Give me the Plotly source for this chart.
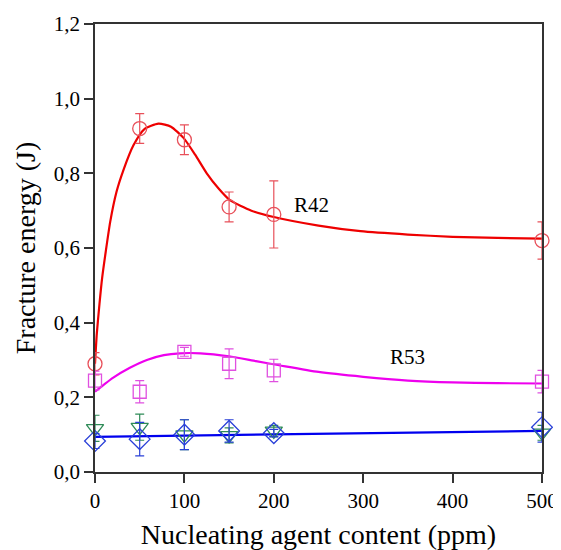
import plotly.graph_objects as go

# measured points (ppm)
conc = [0, 50, 100, 150, 200, 500]

r42 = [0.29, 0.92, 0.89, 0.71, 0.69, 0.62]
r42_err = [0.03, 0.04, 0.04, 0.04, 0.09, 0.05]

r53 = [0.245, 0.215, 0.322, 0.29, 0.272, 0.242]
r53_err = [0.025, 0.03, 0.012, 0.04, 0.03, 0.03]

tri = [0.117, 0.12, 0.10, 0.098, 0.11, 0.105]
tri_err = [0.035, 0.035, 0.04, 0.02, 0.015, 0.02]

dia = [0.083, 0.088, 0.10, 0.11, 0.104, 0.12]
dia_err = [0.02, 0.045, 0.04, 0.03, 0.01, 0.04]

# fitted curves
fit42_x = [0, 2, 5, 8, 12, 17, 24, 32, 43, 55, 71, 85, 99, 112, 125, 138, 151, 175, 200, 250, 297, 350, 400, 450, 500]
fit42_y = [0.29, 0.37, 0.45, 0.52, 0.59, 0.67, 0.75, 0.81, 0.875, 0.918, 0.933, 0.925, 0.895, 0.85, 0.80, 0.76, 0.728, 0.70, 0.683, 0.66, 0.645, 0.636, 0.63, 0.627, 0.625]

fit53_x = [0, 10, 20, 39, 58, 77, 95, 118, 150, 180, 206, 250, 300, 350, 400, 450, 500]
fit53_y = [0.215, 0.234, 0.252, 0.279, 0.300, 0.313, 0.318, 0.318, 0.31, 0.297, 0.286, 0.268, 0.255, 0.245, 0.24, 0.238, 0.237]

fitb_x = [0, 200, 500]
fitb_y = [0.094, 0.101, 0.11]

serif = "Times New Roman, Liberation Serif, DejaVu Serif, serif"

fig = go.Figure()

for fx, fy, col in [(fit42_x, fit42_y, "#ee0000"), (fit53_x, fit53_y, "#ee00ee"), (fitb_x, fitb_y, "#0000ee")]:
    fig.add_trace(go.Scatter(x=fx, y=fy, mode="lines", cliponaxis=False,
                             line=dict(color=col, width=2.2, shape="spline", smoothing=0.6)))


def pts(y, err, color, symbol, size):
    return go.Scatter(
        x=conc, y=y, mode="markers", cliponaxis=False,
        marker=dict(symbol=symbol, size=size, color=color, line=dict(color=color, width=1.3)),
        error_y=dict(type="data", array=err, color=color, thickness=1.2, width=4.5),
    )


fig.add_trace(pts(r42, r42_err, "#e8505a", "circle-open", 14))
fig.add_trace(pts(r53, r53_err, "#e050e0", "square-open", 13))
fig.add_trace(pts(tri, tri_err, "#2e8b57", "triangle-down-open", 15))
fig.add_trace(pts(dia, dia_err, "#2a40d8", "diamond-open", 16))

fig.add_annotation(x=242, y=0.715, text="R42", showarrow=False, font=dict(family=serif, size=21, color="black"))
fig.add_annotation(x=350, y=0.308, text="R53", showarrow=False, font=dict(family=serif, size=21, color="black"))

# page body adds an 8px offset: figure shrunk, margins compensate
fig.update_layout(
    width=553, height=542,
    margin=dict(l=87, r=19, t=16, b=78),
    paper_bgcolor="white", plot_bgcolor="white",
    showlegend=False,
    separators=",.",
    font=dict(family=serif, color="black"),
)
fig.update_xaxes(
    range=[0, 500], tickvals=[0, 100, 200, 300, 400, 500],
    showline=True, mirror=True, linecolor="#333", linewidth=1.5,
    ticks="outside", ticklen=9, tickwidth=1.5, tickcolor="#333",
    showgrid=False, zeroline=False, automargin=False,
    tickfont=dict(family=serif, size=21),
    title=dict(text="Nucleating agent content (ppm)", font=dict(family=serif, size=28), standoff=12),
)
fig.update_yaxes(
    range=[0, 1.2], tickvals=[0, 0.2, 0.4, 0.6, 0.8, 1.0, 1.2], tickformat=".1f",
    showline=True, mirror=True, linecolor="#333", linewidth=1.5,
    ticks="outside", ticklen=9, tickwidth=1.5, tickcolor="#333",
    showgrid=False, zeroline=False, automargin=False,
    tickfont=dict(family=serif, size=21),
    title=dict(text="Fracture energy (J)", font=dict(family=serif, size=28), standoff=10),
)

fig.write_html("out.html")
